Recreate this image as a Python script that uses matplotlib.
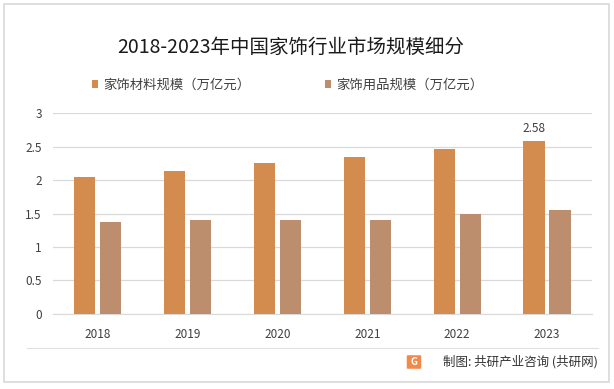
import matplotlib.pyplot as plt
import numpy as np
from matplotlib.patches import Rectangle, FancyBboxPatch

plt.rcParams['font.family'] = ['Noto Sans CJK SC', 'DejaVu Sans']

years = ['2018', '2019', '2020', '2021', '2022', '2023']
material = [2.04, 2.14, 2.25, 2.35, 2.46, 2.58]
goods = [1.37, 1.40, 1.41, 1.41, 1.50, 1.56]
labels = ['家饰材料规模（万亿元）', '家饰用品规模（万亿元）']
c1 = '#D38B4E'
c2 = '#BC8E6E'

fig = plt.figure(figsize=(6.14, 3.89), dpi=100)
ax = fig.add_axes([0.086, 0.193, 0.878, 0.516])

x = np.arange(len(years))
w = 0.235
b1 = ax.bar(x - 0.145, material, w, color=c1, label=labels[0], zorder=3)
b2 = ax.bar(x + 0.145, goods, w, color=c2, label=labels[1], zorder=3)

ax.text(x[-1] - 0.145, material[-1] + 0.1, '2.58', ha='center', va='bottom',
        fontsize=8.5, color='#404040')

ax.set_xlim(-0.5, len(years) - 0.5)
ax.set_ylim(0, 3)
ax.set_yticks([0, 0.5, 1, 1.5, 2, 2.5, 3])
ax.set_yticklabels(['0', '0.5', '1', '1.5', '2', '2.5', '3'])
ax.set_xticks(x)
ax.set_xticklabels(years)
ax.tick_params(length=0, labelsize=8.5, colors='#404040')
ax.tick_params(axis='x', pad=10)
ax.tick_params(axis='y', pad=8)
ax.grid(axis='y', color='#D9D9D9', linewidth=0.9, zorder=0)
for s in ['top', 'right', 'left']:
    ax.spines[s].set_visible(False)
ax.spines['bottom'].set_color('#D9D9D9')

fig.text(0.474, 1 - 47 / 389, '2018-2023年中国家饰行业市场规模细分', ha='center', va='center',
         fontsize=14, color='#1a1a1a')
fig.legend(handles=[b1, b2], loc='center', bbox_to_anchor=(0.468, 1 - 85 / 389), ncol=2,
           frameon=False, fontsize=9.6, handlelength=0.5, handleheight=0.5,
           handletextpad=0.35, columnspacing=5.6, labelcolor='#404040')

# outer border and footer
fig.patches.append(Rectangle((4 / 614, 7 / 389), 605 / 614, 378 / 389, transform=fig.transFigure,
                             fill=False, edgecolor='#D9D9D9', linewidth=1.2))
fig.lines.append(plt.Line2D([27 / 614, 598 / 614], [1 - 348 / 389, 1 - 348 / 389],
                            transform=fig.transFigure, color='#E0E0E0', linewidth=0.8))
fig.patches.append(FancyBboxPatch((408 / 614, 1 - 368 / 389), 12 / 614, 12 / 389,
                                  boxstyle='round,pad=0.002', transform=fig.transFigure,
                                  facecolor='#F08A4B', edgecolor='none'))
fig.text(414 / 614, 1 - 362 / 389, 'G', ha='center', va='center', fontsize=7,
         color='white', fontweight='bold')
fig.text(598 / 614, 1 - 362 / 389, '制图: 共研产业咨询 (共研网)', ha='right', va='center',
         fontsize=9, color='#333333')

fig.savefig('out.png', dpi=100)
